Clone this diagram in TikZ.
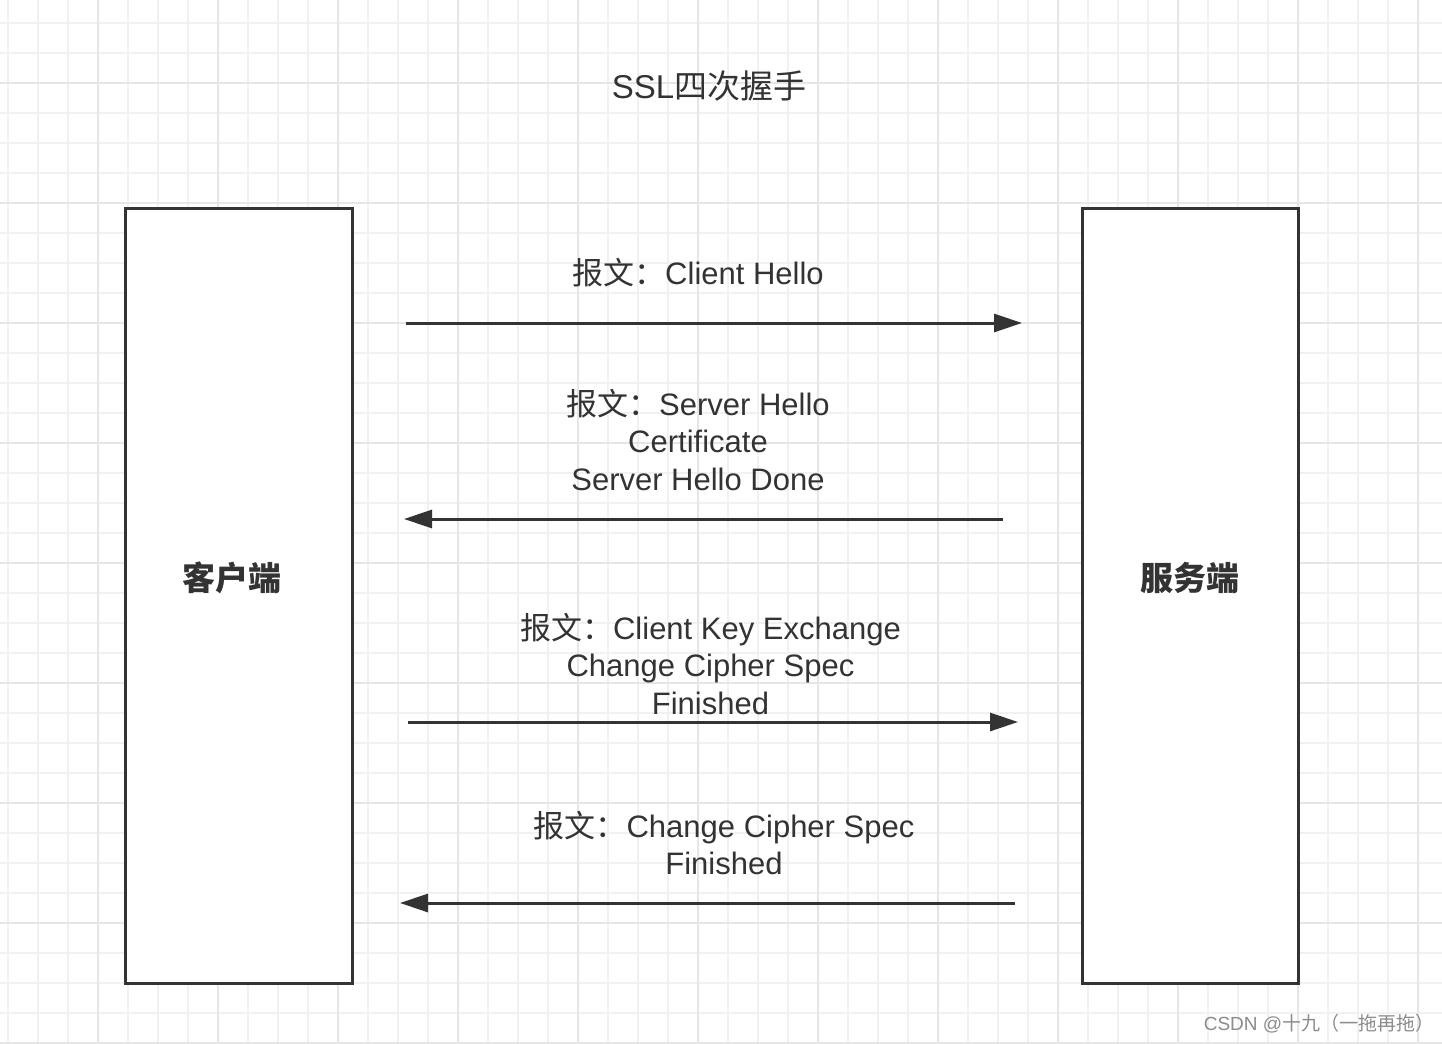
\documentclass[tikz,border=0pt]{standalone}
\usepackage{fontspec}
\setmainfont{Liberation Sans}
\newfontfamily\cjk{Noto Sans CJK SC}
\usetikzlibrary{arrows.meta}
\definecolor{ink}{HTML}{333333}
\definecolor{gridminor}{HTML}{F1F1F1}
\definecolor{gridmajor}{HTML}{E6E6E6}
\tikzset{
  party/.style={draw=ink, line width=1.5pt, fill=white, minimum width=#1, minimum height=387.5pt, inner sep=0pt},
  partylabel/.style={text=ink, font=\fontsize{16.5}{20}\selectfont\cjk\bfseries},
  msg/.style={text=ink, align=center, font=\fontsize{15.5}{18.75}\selectfont, inner sep=0pt},
  flow/.style={draw=ink, line width=1.5pt, -{Triangle[length=14pt,width=9pt]}},
}
\begin{document}
\begin{tikzpicture}[x=0.5pt,y=-0.5pt]
\useasboundingbox (0,0) rectangle (1442,1044);
\fill[white] (0,0) rectangle (1442,1044);
% grid
\foreach \gx in {8.3,38.3,...,1442} \draw[gridminor, line width=1pt] (\gx,0) -- (\gx,1044);
\foreach \gy in {23.3,53.3,...,1044} \draw[gridminor, line width=1pt] (0,\gy) -- (1442,\gy);
\foreach \gx in {98.3,218.3,...,1442} \draw[gridmajor, line width=1pt] (\gx,0) -- (\gx,1044);
\foreach \gy in {83.3,203.3,...,1044} \draw[gridmajor, line width=1pt] (0,\gy) -- (1442,\gy);
% title
\node[text=ink, font=\fontsize{16.5}{20}\selectfont] (title) at (709,86) {SSL{\cjk 四次握手}};
% parties
\node[party=113.5pt] (client) at (238.5,595.5) {};
\node[party=108pt] (server) at (1190,595.5) {};
\node[partylabel] (clientlabel) at (232,578) {客户端};
\node[partylabel] (serverlabel) at (1190,578) {服务端};
% messages
\node[msg] (m1) at (698,273) {{\cjk 报文：}Client Hello};
\node[msg] (m2) at (698,440) {{\cjk 报文：}Server Hello\\Certificate\\Server Hello Done};
\node[msg] (m3) at (710.5,664) {{\cjk 报文：}Client Key Exchange\\Change Cipher Spec\\Finished};
\node[msg] (m4) at (724,843) {{\cjk 报文：}Change Cipher Spec\\Finished};
% arrow endpoints
\coordinate (a1s) at (406,323); \coordinate (a1e) at (1022,323);
\coordinate (a2s) at (1003,519); \coordinate (a2e) at (404,519);
\coordinate (a3s) at (408,722); \coordinate (a3e) at (1018,722);
\coordinate (a4s) at (1015,903); \coordinate (a4e) at (400,903);
\draw[flow] (a1s) -- (a1e);
\draw[flow] (a2s) -- (a2e);
\draw[flow] (a3s) -- (a3e);
\draw[flow] (a4s) -- (a4e);
% watermark
\node[text=black!45, font=\fontsize{9.5}{11}\selectfont, inner sep=0pt] (wm) at (1319,1024) {CSDN @{\cjk 十九（一拖再拖）}};
\end{tikzpicture}
\end{document}
